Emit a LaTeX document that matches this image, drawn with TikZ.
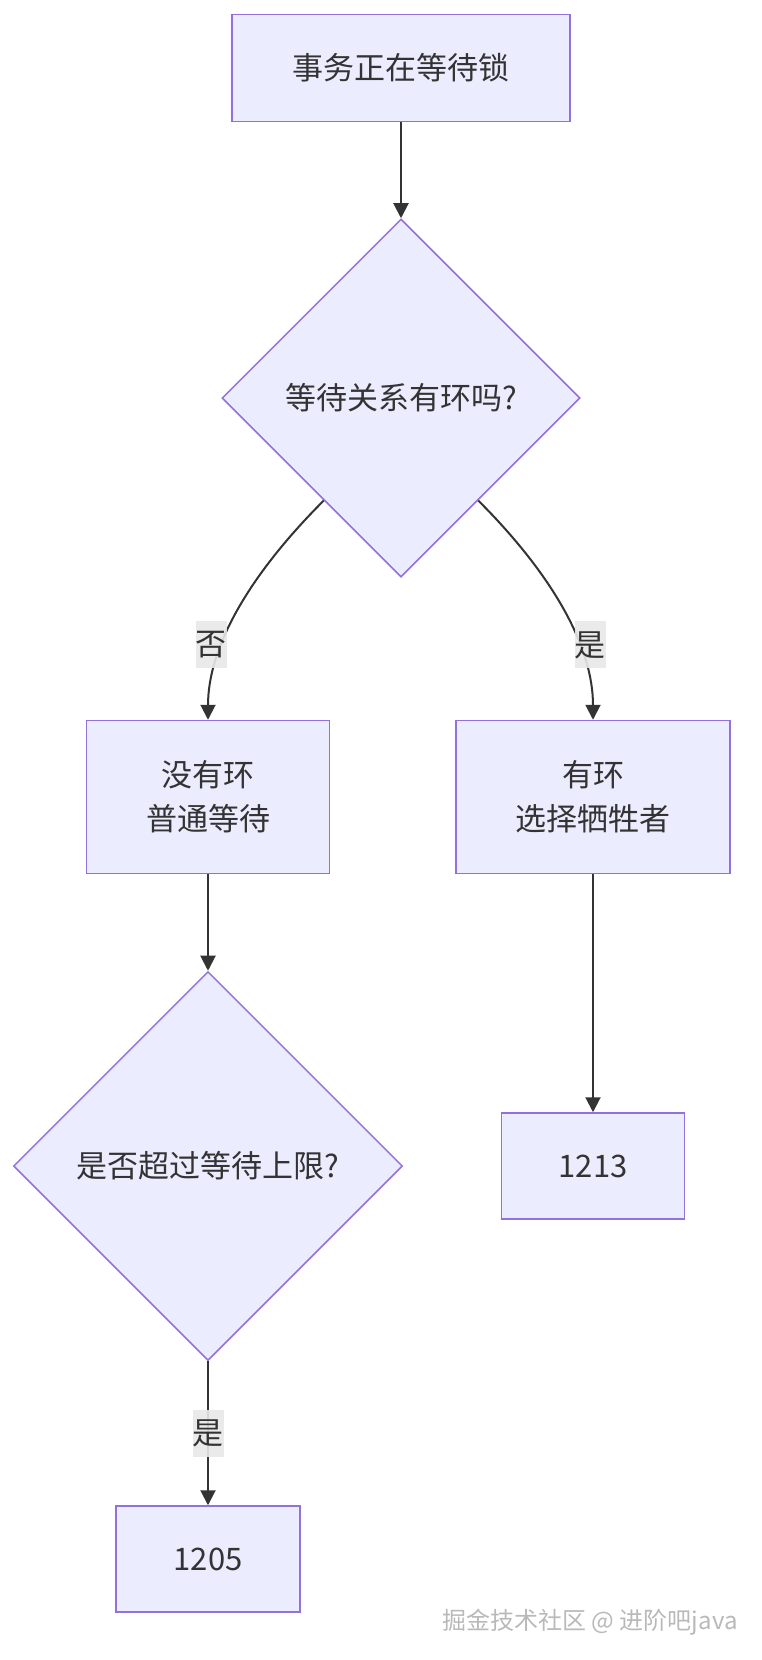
\documentclass[tikz,border=0pt]{standalone}
\usepackage{fontspec}
\setmainfont{Noto Sans CJK SC}
\usetikzlibrary{shapes.geometric,arrows.meta}
\definecolor{boxfill}{HTML}{ECECFF}
\definecolor{boxline}{HTML}{9370DB}
\definecolor{edgeline}{HTML}{333333}
\definecolor{lblfill}{HTML}{E8E8E8}

\begin{document}
\begin{tikzpicture}[x=1pt, y=1pt, font=\fontsize{31}{44}\selectfont, text=edgeline]
  \tikzstyle{stepbox} = [rectangle, draw=boxline, fill=boxfill, line width=1.5pt, align=center, inner sep=0pt]
  \tikzstyle{decision} = [diamond, aspect=1, draw=boxline, fill=boxfill, line width=1.5pt, inner sep=0pt]
  \tikzstyle{flowline} = [draw=edgeline, line width=2pt, -{Triangle[length=15pt,width=15pt]}]
  \tikzstyle{answer} = [fill=lblfill, fill opacity=0.9, text opacity=1, inner sep=0pt, minimum width=31pt, minimum height=47pt, anchor=center]

  \useasboundingbox (0,0) rectangle (762,-1660);

  \node [stepbox, minimum width=338pt, minimum height=107pt] (start) at (401,-68) {事务正在等待锁};
  \node [decision, below of=start, node distance=330pt, minimum size=358pt] (cycle) {等待关系有环吗?};
  \node [stepbox, below of=cycle, node distance=399pt, xshift=-193pt, minimum width=243pt, minimum height=153pt] (nocycle) {没有环\\普通等待};
  \node [stepbox, below of=cycle, node distance=399pt, xshift=192pt, minimum width=274pt, minimum height=153pt] (victim) {有环\\选择牺牲者};
  \node [decision, below of=nocycle, node distance=369pt, minimum size=389pt] (timeout) {是否超过等待上限?};
  \node [stepbox, below of=victim, node distance=369pt, minimum width=183pt, minimum height=106pt] (err1213) {1213};
  \node [stepbox, below of=timeout, node distance=393pt, minimum width=184pt, minimum height=106pt] (err1205) {1205};
  \node [font=\fontsize{24}{24}\selectfont, text=gray!55] (credit) at (590,-1622) {掘金技术社区 @ 进阶吧java};

  \draw[flowline] (start) -- (cycle);
  \draw[flowline] (cycle.233) .. controls +(-77,-77) and +(0,71) .. (nocycle.north) node[answer, pos=0.65, xshift=-11pt] {否};
  \draw[flowline] (cycle.307) .. controls +(77,-77) and +(0,71) .. (victim.north) node[answer, pos=0.65, xshift=11pt] {是};
  \draw[flowline] (nocycle) -- (timeout);
  \draw[flowline] (victim) -- (err1213);
  \draw[flowline] (timeout) -- (err1205) node[answer, midway] {是};
\end{tikzpicture}
\end{document}
